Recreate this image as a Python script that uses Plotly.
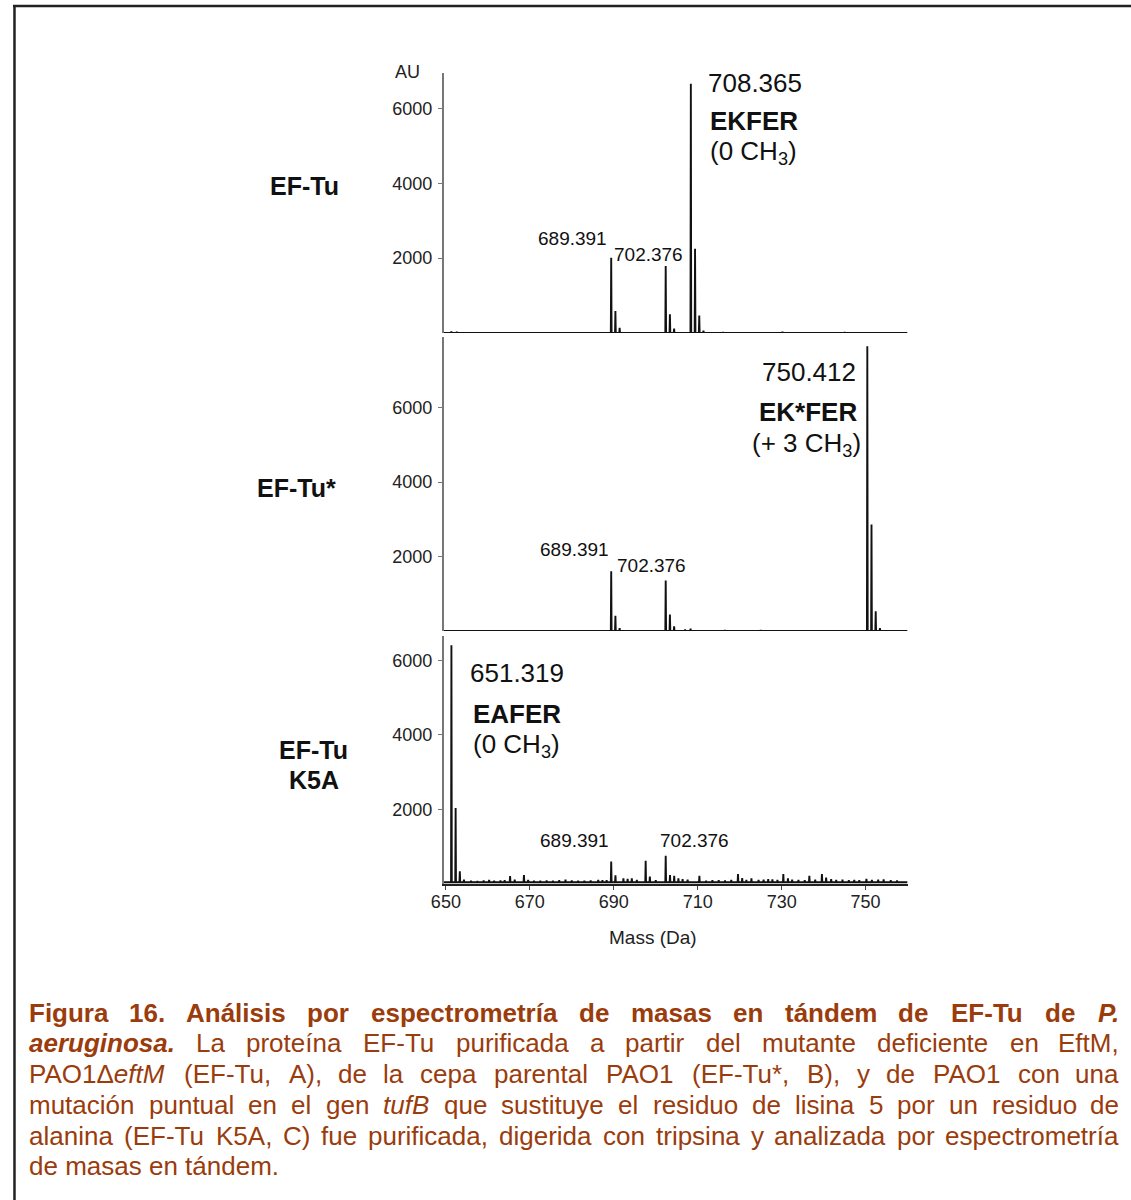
import re
import plotly.graph_objects as go

W, H = 1131, 1200
FONT = "Liberation Sans, Arial, sans-serif"
CAP_COLOR = "#9a3c0c"

# ---------------- data ----------------
x_ticks = [650, 670, 690, 710, 730, 750]
y_ticks = [2000, 4000, 6000]

# Panel A: EF-Tu (PAO1 delta eftM)
mass_A = [651.3, 652.6, 689.391, 690.39, 691.40, 702.376, 703.38, 704.38,
          708.365, 709.37, 710.37, 711.37, 716.0, 730.2, 745.0]
int_A = [40, 30, 2010, 590, 140, 1790, 500, 115,
         6660, 2250, 470, 60, 25, 30, 25]

# Panel B: EF-Tu* (PAO1)
mass_B = [689.391, 690.39, 691.40, 702.376, 703.38, 704.38, 707.0, 708.3,
          716.5, 725.0, 750.412, 751.41, 752.41, 753.42]
int_B = [1605, 410, 80, 1360, 440, 125, 40, 60,
         20, 25, 7650, 2860, 530, 80]

# Panel C: EF-Tu K5A
mass_C = [651.319, 652.32, 653.32, 654.3, 656.0, 657.5, 659.0, 660.3, 661.5,
          663.0, 664.0, 665.3, 666.4, 668.6, 669.6, 671.0, 672.5, 674.0,
          675.5, 677.0, 678.5, 680.0, 681.5, 683.0, 684.5, 686.3, 687.3,
          688.3, 689.391, 690.4, 692.3, 693.3, 694.3, 695.5, 697.6, 698.6,
          700.0, 702.376, 703.4, 704.4, 705.4, 706.4, 707.6, 710.4, 712.0,
          713.5, 715.0, 716.5, 718.0, 719.6, 720.6, 721.6, 722.8, 724.5,
          725.7, 726.8, 727.8, 729.0, 730.4, 731.5, 732.5, 734.0, 735.5,
          736.6, 738.0, 739.6, 740.6, 741.8, 743.0, 744.5, 746.0, 747.3,
          748.5, 750.2, 751.5, 753.0, 754.3, 756.0, 757.5]
int_C = [6400, 2040, 340, 120, 90, 80, 95, 110, 85,
         95, 100, 215, 120, 240, 110, 90, 85, 95,
         90, 100, 120, 95, 85, 90, 95, 110, 100,
         105, 600, 230, 150, 140, 150, 110, 620, 200,
         100, 760, 240, 220, 150, 130, 120, 220, 90,
         100, 105, 95, 110, 270, 160, 110, 150, 110,
         120, 130, 125, 110, 270, 150, 120, 110, 100,
         220, 120, 270, 170, 130, 110, 120, 100, 110,
         105, 140, 110, 120, 125, 100, 95]

base_A, base_B, base_C = 0, 0, 45

# ---------------- helpers ----------------
# horizontal placement calibration (measured offset/scale of the page render)
X_OFF, X_SCALE = 12.0, 0.989


def px(x):
    return max(0.0, (x - X_OFF) / X_SCALE) / W


def py(y):
    return 1 - y / H


def profile(masses, ints, base, lo=649.5, hi=760.0, half=0.09):
    pairs = sorted(zip(masses, ints))
    xs, ys = [lo], [base]
    for m, v in pairs:
        xs += [m - half, m, m + half]
        ys += [base, v, base]
    xs.append(hi)
    ys.append(base)
    return xs, ys


fig = go.Figure()

panels = [
    ("y", mass_A, int_A, base_A),
    ("y2", mass_B, int_B, base_B),
    ("y3", mass_C, int_C, base_C),
]
for yref, m, v, b in panels:
    xs, ys = profile(m, v, b)
    fig.add_trace(go.Scatter(
        x=xs, y=ys, mode="lines", yaxis=yref, xaxis="x",
        line=dict(color="#111111", width=1.9), showlegend=False,
        hoverinfo="skip"))

xd = [px(443), px(907)]
ax_common = dict(showgrid=False, zeroline=False, showline=True, linewidth=2,
                 ticks="outside", ticklen=4, tickwidth=1)

fig.update_layout(
    width=W, height=H, margin=dict(l=0, r=0, t=0, b=0),
    paper_bgcolor="white", plot_bgcolor="white",
    font=dict(family=FONT, color="#222"),
    xaxis=dict(domain=xd, range=[649.5, 760], anchor="y3",
               tickvals=x_ticks, linecolor="#222", tickcolor="#444",
               ticklabelstandoff=-4,
               tickfont=dict(size=18, color="#222"), **ax_common),
    xaxis2=dict(domain=xd, range=[649.5, 760], anchor="y", overlaying="x",
                tickvals=x_ticks, showticklabels=False, linecolor="#222",
                tickcolor="#444", **ax_common),
    xaxis3=dict(domain=xd, range=[649.5, 760], anchor="y2", overlaying="x",
                tickvals=x_ticks, showticklabels=False, linecolor="#222",
                tickcolor="#444", **ax_common),
    yaxis=dict(domain=[py(333), py(73)], range=[0, 6950], anchor="x2",
               tickvals=y_ticks, linecolor="#777", tickcolor="#777",
               ticklabelstandoff=2,
               tickfont=dict(size=18, color="#222"), **ax_common),
    yaxis2=dict(domain=[py(631), py(337)], range=[0, 7900], anchor="x3",
                tickvals=y_ticks, linecolor="#777", tickcolor="#777",
                ticklabelstandoff=2,
                tickfont=dict(size=18, color="#222"), **ax_common),
    yaxis3=dict(domain=[py(884), py(636)], range=[0, 6650], anchor="x",
                tickvals=y_ticks, linecolor="#777", tickcolor="#777",
                ticklabelstandoff=2,
                tickfont=dict(size=18, color="#222"), **ax_common),
)

ann = []


def text(x, y, s, size, xanchor="left", color="#111", yanchor="middle"):
    ann.append(dict(x=px(x), y=py(y), xref="paper", yref="paper", text=s,
                    showarrow=False, xanchor=xanchor, yanchor=yanchor,
                    borderpad=0,
                    font=dict(size=size, color=color, family=FONT)))


# axis labels
text(407, 72, "AU", 18, "center", "#222")
text(652, 937, "Mass (Da)", 19, "center", "#222")

# panel labels
text(304, 186, "<b>EF-Tu</b>", 25, "center")
text(296, 488, "<b>EF-Tu*</b>", 25, "center")
text(313, 750, "<b>EF-Tu</b>", 25, "center")
text(313, 780, "<b>K5A</b>", 25, "center")

# peak labels panel A
text(706, 83, "708.365", 26)
text(708, 121, "<b>EKFER</b>", 26)
text(708, 153, "(0 CH<sub>3</sub>)", 26)
text(607, 238, "689.391", 19, "right")
text(612, 254, "702.376", 19)
# panel B
text(856, 372, "750.412", 26, "right")
text(857, 412, "<b>EK*FER</b>", 26, "right")
text(861, 444, "(+ 3 CH<sub>3</sub>)", 26, "right")
text(609, 549, "689.391", 19, "right")
text(615, 565, "702.376", 19)
# panel C
text(468, 673, "651.319", 26)
text(471, 714, "<b>EAFER</b>", 26)
text(471, 745, "(0 CH<sub>3</sub>)", 26)
text(609, 840, "689.391", 19, "right")
text(658, 840, "702.376", 19)

# ---------------- caption (justified) ----------------
REG = {}
for ch in "ijl":
    REG[ch] = 222
for ch in " .,ftIí":
    REG[ch] = 278
for ch in "r()-":
    REG[ch] = 333
for ch in "ckvsxyzJ":
    REG[ch] = 500
for ch in "mM":
    REG[ch] = 833
for ch in "wCDHNRU":
    REG[ch] = 722
for ch in "ABEKPSVXY":
    REG[ch] = 667
for ch in "FTZ":
    REG[ch] = 611
for ch in "GOQ":
    REG[ch] = 778
REG["*"] = 389
REG["W"] = 944
REG["Δ"] = 668

BOLD = {}
for ch in " .,ijlIí":
    BOLD[ch] = 278
for ch in "ft()-":
    BOLD[ch] = 333
for ch in "r*":
    BOLD[ch] = 389
for ch in "bdghnopquFTLZ":
    BOLD[ch] = 611
BOLD["m"] = 889
BOLD["M"] = 833
for ch in "ABCDHKNRU":
    BOLD[ch] = 722
for ch in "EPSVXY":
    BOLD[ch] = 667
for ch in "GOQw":
    BOLD[ch] = 778
BOLD["z"] = 500
BOLD["W"] = 944

CAP_SIZE = 26


def width(word):
    bold = "<b>" in word
    plain = re.sub(r"<[^>]+>", "", word)
    table = BOLD if bold else REG
    return sum(table.get(c, 556) for c in plain) * CAP_SIZE / 1000.0 * 1.01


def bw(s):
    return ["<b>%s</b>" % w for w in s.split()]


def rw(s):
    return s.split()


cap_lines = [
    bw("Figura 16. Análisis por espectrometría de masas en tándem de EF-Tu de") + ["<b><i>P.</i></b>"],
    ["<b><i>aeruginosa.</i></b>"] + rw("La proteína EF-Tu purificada a partir del mutante deficiente en EftM,"),
    ["PAO1Δ<i>eftM</i>"] + rw("(EF-Tu, A), de la cepa parental PAO1 (EF-Tu*, B), y de PAO1 con una"),
    rw("mutación puntual en el gen") + ["<i>tufB</i>"] + rw("que sustituye el residuo de lisina 5 por un residuo de"),
    rw("alanina (EF-Tu K5A, C) fue purificada, digerida con tripsina y analizada por espectrometría"),
]
cap_y = [1013, 1043, 1074, 1105, 1136]
LEFT, RIGHT = 27, 1120

for words, yy in zip(cap_lines, cap_y):
    ws = [width(w) for w in words]
    gap = (RIGHT - LEFT - sum(ws)) / (len(words) - 1)
    xcur = LEFT
    n = len(words)
    for i, (w, wd) in enumerate(zip(words, ws)):
        if i == 0:
            text(LEFT, yy, w, CAP_SIZE, "left", CAP_COLOR)
        elif i == n - 1:
            text(RIGHT, yy, w, CAP_SIZE, "right", CAP_COLOR)
        else:
            text(xcur + wd / 2, yy, w, CAP_SIZE, "center", CAP_COLOR)
        xcur += wd + gap

text(LEFT, 1166, "de masas en tándem.", CAP_SIZE, "left", CAP_COLOR)

fig.update_layout(annotations=ann)

# outer frame (top and left edges visible)
fig.add_shape(type="line", xref="paper", yref="paper",
              x0=0, x1=1, y0=py(6), y1=py(6),
              line=dict(color="#222", width=2.5))
fig.add_shape(type="line", xref="paper", yref="paper",
              x0=1.5 / W, x1=1.5 / W, y0=py(5), y1=py(1205),
              line=dict(color="#222", width=2.5))

fig.write_html(
    "out.html",
    config={"displayModeBar": False},
    post_script="document.body.style.margin='0';document.body.style.overflow='hidden';",
)
